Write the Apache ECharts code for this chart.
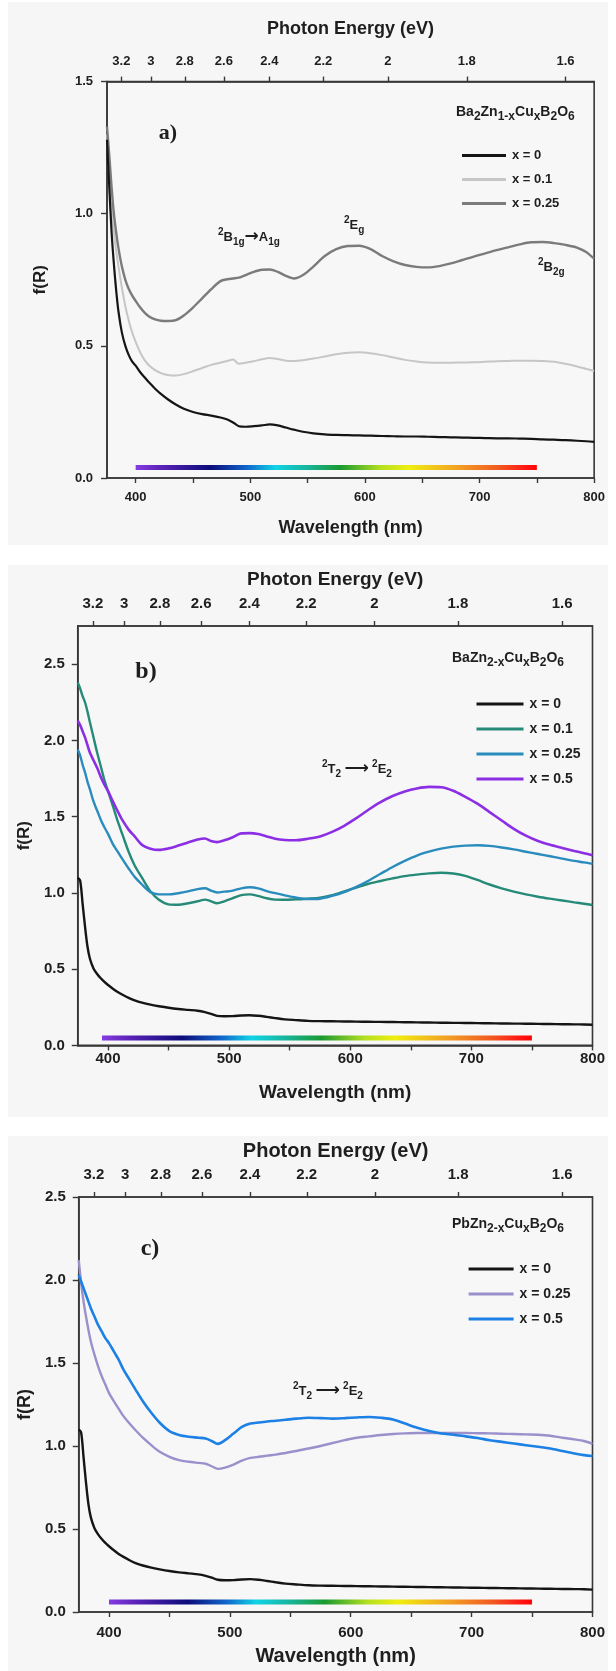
<!DOCTYPE html>
<html>
<head>
<meta charset="utf-8">
<title>Kubelka-Munk f(R) spectra</title>
<script src="https://cdn.jsdelivr.net/npm/echarts@6.0.0/dist/echarts.min.js"></script>
<style>
  html, body { margin: 0; padding: 0; background: #ffffff; }
  body { width: 616px; height: 1671px; position: relative; overflow: hidden; }
  .panel { position: absolute; left: 8px; width: 600px; background: #f6f6f6; }
</style>
</head>
<body>
<div id="pa" class="panel" style="top:2px;height:543px"></div>
<div id="pb" class="panel" style="top:565px;height:552px"></div>
<div id="pc" class="panel" style="top:1136px;height:535px"></div>
<script>
// Wavelength grid (nm) shared by every spectrum
const wavelength = [375,377,379,381,383,385,388,391,394,397,400,404,408,412,417,422,428,435,442,450,458,466,474,480,485,490,496,503,510,517,524,531,538,546,555,565,575,585,595,605,615,625,635,645,655,665,675,685,695,705,715,725,735,745,755,765,775,785,793,800];

// Axis ticks
const energyTicks = [3.2, 3.0, 2.8, 2.6, 2.4, 2.2, 2.0, 1.8, 1.6];   // eV, top axis
const nmTicks = [400, 450, 500, 550, 600, 650, 700, 750, 800];
const nmLabels = [400, 500, 600, 700, 800];
const yLabelsA = [0, 0.5, 1.0, 1.5];
const yLabelsBC = [0, 0.5, 1.0, 1.5, 2.0, 2.5];

// a) Ba2Zn1-xCuxB2O6
const aX0 = [1.28,1.10,0.93,0.81,0.71,0.63,0.55,0.50,0.465,0.44,0.425,0.40,0.38,0.36,0.338,0.318,0.298,0.278,0.262,0.25,0.242,0.236,0.229,0.221,0.21,0.196,0.194,0.196,0.199,0.203,0.199,0.191,0.183,0.175,0.169,0.165,0.163,0.162,0.161,0.16,0.159,0.158,0.157,0.157,0.156,0.155,0.154,0.153,0.152,0.151,0.15,0.15,0.149,0.148,0.146,0.145,0.143,0.141,0.139,0.137];
const aX01 = [1.30,1.13,1.01,0.93,0.86,0.80,0.72,0.65,0.595,0.55,0.515,0.475,0.445,0.425,0.408,0.397,0.39,0.388,0.393,0.404,0.416,0.428,0.436,0.443,0.448,0.432,0.436,0.442,0.449,0.454,0.45,0.444,0.443,0.446,0.452,0.46,0.468,0.474,0.476,0.472,0.465,0.456,0.447,0.441,0.437,0.436,0.436,0.437,0.438,0.44,0.442,0.443,0.444,0.444,0.443,0.44,0.432,0.422,0.413,0.405];
const aX025 = [1.33,1.22,1.10,1.00,0.93,0.87,0.80,0.75,0.715,0.69,0.67,0.645,0.625,0.61,0.60,0.595,0.594,0.597,0.615,0.645,0.68,0.715,0.745,0.752,0.755,0.758,0.768,0.78,0.788,0.789,0.78,0.765,0.755,0.768,0.80,0.84,0.866,0.878,0.879,0.866,0.84,0.82,0.806,0.799,0.797,0.802,0.812,0.825,0.838,0.85,0.862,0.873,0.884,0.892,0.893,0.889,0.882,0.872,0.855,0.83];

// b) BaZn2-xCuxB2O6
const bX0 = [1.10,1.08,0.93,0.78,0.65,0.57,0.505,0.468,0.44,0.416,0.396,0.372,0.35,0.332,0.312,0.295,0.28,0.267,0.257,0.247,0.239,0.233,0.227,0.218,0.207,0.194,0.191,0.192,0.196,0.198,0.194,0.187,0.179,0.171,0.166,0.161,0.159,0.158,0.157,0.156,0.155,0.154,0.153,0.152,0.151,0.15,0.149,0.148,0.147,0.146,0.145,0.144,0.143,0.142,0.141,0.14,0.139,0.138,0.137,0.135];
const bX01 = [2.38,2.34,2.29,2.25,2.19,2.12,2.02,1.92,1.83,1.74,1.667,1.57,1.47,1.38,1.27,1.18,1.10,1.01,0.955,0.925,0.922,0.932,0.945,0.956,0.945,0.932,0.945,0.965,0.985,0.99,0.98,0.965,0.956,0.955,0.958,0.962,0.968,0.985,1.01,1.035,1.06,1.078,1.095,1.11,1.12,1.128,1.132,1.127,1.112,1.085,1.055,1.03,1.008,0.99,0.975,0.962,0.95,0.938,0.929,0.921];
const bX025 = [1.94,1.90,1.84,1.79,1.73,1.68,1.60,1.54,1.48,1.43,1.387,1.32,1.27,1.22,1.16,1.105,1.055,1.005,0.99,0.99,0.998,1.01,1.025,1.03,1.015,1.003,1.008,1.015,1.03,1.037,1.03,1.012,0.998,0.984,0.97,0.96,0.962,0.98,1.005,1.04,1.08,1.125,1.17,1.21,1.245,1.27,1.29,1.303,1.31,1.312,1.308,1.298,1.285,1.27,1.255,1.24,1.225,1.21,1.2,1.19];
const bX05 = [2.13,2.10,2.06,2.02,1.97,1.92,1.87,1.82,1.76,1.71,1.667,1.60,1.535,1.475,1.415,1.37,1.315,1.29,1.282,1.292,1.31,1.33,1.35,1.357,1.34,1.333,1.345,1.365,1.39,1.392,1.386,1.37,1.355,1.347,1.345,1.355,1.37,1.40,1.44,1.49,1.545,1.595,1.635,1.665,1.685,1.695,1.693,1.67,1.63,1.585,1.53,1.475,1.42,1.375,1.34,1.315,1.295,1.275,1.26,1.247];

// c) PbZn2-xCuxB2O6
const cX0 = [1.10,1.08,0.93,0.78,0.65,0.57,0.505,0.468,0.44,0.416,0.396,0.372,0.35,0.332,0.312,0.295,0.28,0.267,0.257,0.247,0.239,0.233,0.227,0.218,0.207,0.194,0.191,0.192,0.196,0.198,0.194,0.187,0.179,0.171,0.166,0.161,0.159,0.158,0.157,0.156,0.155,0.154,0.153,0.152,0.151,0.15,0.149,0.148,0.147,0.146,0.145,0.144,0.143,0.142,0.141,0.14,0.139,0.138,0.137,0.135];
const cX025 = [2.12,1.98,1.87,1.78,1.70,1.63,1.55,1.48,1.42,1.37,1.32,1.27,1.225,1.18,1.135,1.095,1.05,1.005,0.965,0.935,0.915,0.905,0.898,0.893,0.878,0.862,0.87,0.888,0.912,0.928,0.935,0.942,0.948,0.958,0.97,0.985,1.0,1.018,1.035,1.05,1.058,1.066,1.072,1.076,1.078,1.078,1.078,1.078,1.078,1.077,1.076,1.074,1.072,1.07,1.068,1.062,1.05,1.04,1.03,1.013];
const cX05 = [2.03,1.99,1.95,1.91,1.87,1.83,1.78,1.73,1.69,1.65,1.62,1.57,1.52,1.46,1.40,1.34,1.27,1.20,1.14,1.09,1.067,1.056,1.05,1.045,1.03,1.013,1.035,1.075,1.115,1.135,1.142,1.148,1.152,1.158,1.165,1.17,1.168,1.165,1.168,1.172,1.175,1.17,1.16,1.135,1.11,1.09,1.075,1.068,1.058,1.048,1.035,1.025,1.015,1.005,0.995,0.985,0.97,0.955,0.945,0.94];

// Visible-spectrum strip: [start nm, end nm, f(R) level]
const stripA = [400, 750, 0.04];
const stripB = [395, 750, 0.048];
const stripC = [400, 750, 0.06];

const SANS = '"Liberation Sans", Arial, Helvetica, sans-serif';
const SERIF = '"Liberation Serif", "Times New Roman", serif';
const INK = '#1e1e1e';
const FRAME = '#383838';

function pairs(vals) { return wavelength.map((w, i) => [w, vals[i]]); }

function spectrumGradient() {
  return new echarts.graphic.LinearGradient(0, 0, 1, 0, [
    { offset: 0.00, color: '#8a3ee6' },
    { offset: 0.07, color: '#5a22b8' },
    { offset: 0.19, color: '#0c0c7a' },
    { offset: 0.28, color: '#1066cc' },
    { offset: 0.35, color: '#10d4e6' },
    { offset: 0.43, color: '#18b49a' },
    { offset: 0.51, color: '#1a9a30' },
    { offset: 0.61, color: '#b4e020' },
    { offset: 0.68, color: '#f0ee10' },
    { offset: 0.80, color: '#f2a024' },
    { offset: 0.90, color: '#f25a20' },
    { offset: 0.97, color: '#ff1414' },
    { offset: 1.00, color: '#ff0000' }
  ]);
}

function richStyles(main, sub) {
  const base = { fontFamily: SANS, fontWeight: 'bold', fill: INK };
  return {
    m: Object.assign({}, base, { fontSize: main, lineHeight: main + 7, verticalAlign: 'middle' }),
    s: Object.assign({}, base, { fontSize: sub, lineHeight: sub, verticalAlign: 'bottom' }),
    p: Object.assign({}, base, { fontSize: sub, lineHeight: sub, verticalAlign: 'top' }),
    a: Object.assign({}, base, { fontFamily: '"DejaVu Sans", sans-serif', fontWeight: 'bold', fontSize: main + 4, lineHeight: main + 7, verticalAlign: 'middle' })
  };
}

function note(x, y, text, main, sub) {
  return { type: 'text', x: x, y: y, z: 50,
    style: { text: text, rich: richStyles(main, sub), fill: INK, verticalAlign: 'middle', align: 'left' } };
}

function buildOption(p) {
  const axisLine = { show: true, onZero: false, lineStyle: { color: FRAME, width: 1.6 } };
  const tickLine = { color: FRAME, width: 1.4 };
  const labelBase = { fontFamily: SANS, fontWeight: 'bold', fontSize: p.tickFont, color: INK };
  const nameBase = { fontFamily: SANS, fontWeight: 'bold', fontSize: p.titleFont, color: INK };
  const wl = energyTicks.map(e => 1240 / e);

  const series = p.series.map(s => ({
    name: s.name, type: 'line', data: pairs(s.data), showSymbol: false, smooth: 0.3,
    xAxisIndex: 0, yAxisIndex: 0, z: s.z || 3,
    lineStyle: { color: s.color, width: s.width },
    itemStyle: { color: s.color }, emphasis: { disabled: true }
  }));
  series.push({
    name: 'visible', type: 'line', silent: true, showSymbol: false, z: 2,
    data: [[p.strip[0], p.strip[2]], [p.strip[1], p.strip[2]]],
    lineStyle: { width: 5, cap: 'butt', color: spectrumGradient() },
    itemStyle: { color: '#8a3ee6' }, emphasis: { disabled: true }
  });

  return {
    animation: false,
    backgroundColor: '#f6f6f6',
    grid: { left: p.grid[0], right: p.grid[1], top: p.grid[2], bottom: p.grid[3],
      show: true, borderColor: FRAME, borderWidth: 1.6, backgroundColor: '#f7f7f7' },
    xAxis: [
      { type: 'value', position: 'bottom', min: 375, max: 800,
        name: 'Wavelength (nm)', nameLocation: 'middle', nameGap: p.bottomNameGap, nameTextStyle: nameBase,
        axisLine: axisLine,
        axisTick: { show: true, inside: false, length: 5, customValues: nmTicks, lineStyle: tickLine },
        axisLabel: Object.assign({ customValues: nmLabels, margin: p.bottomLabelMargin }, labelBase),
        splitLine: { show: false } },
      { type: 'value', position: 'top', min: 375, max: 800,
        name: 'Photon Energy (eV)', nameLocation: 'middle', nameGap: p.topNameGap, nameTextStyle: nameBase,
        axisLine: axisLine,
        axisTick: { show: true, inside: false, length: 5, customValues: wl, lineStyle: tickLine },
        axisLabel: Object.assign({ customValues: wl, margin: p.topLabelMargin,
          formatter: v => String(+(1240 / v).toFixed(1)) }, labelBase),
        splitLine: { show: false } }
    ],
    yAxis: { type: 'value', min: 0, max: p.ymax,
      name: 'f(R)', nameLocation: 'middle', nameRotate: 90, nameGap: p.yNameGap,
      nameTextStyle: Object.assign({}, nameBase, { fontSize: p.yNameFont }),
      axisLine: axisLine,
      axisTick: { show: true, inside: false, length: 6, customValues: p.yLabels, lineStyle: tickLine },
      axisLabel: Object.assign({ customValues: p.yLabels, margin: p.yLabelMargin,
        formatter: v => v.toFixed(1) }, labelBase),
      splitLine: { show: false } },
    legend: { orient: 'vertical', left: p.legend.left, top: p.legend.top,
      itemWidth: p.legend.width, itemHeight: 3, itemGap: p.legend.gap, icon: 'rect',
      selectedMode: false, data: p.series.map(s => s.name),
      textStyle: { fontFamily: SANS, fontWeight: 'bold', fontSize: p.legend.font, color: INK, padding: [0, 0, 0, 1] } },
    series: series,
    graphic: [
      note(p.formula[0], p.formula[1], p.formula[2], p.formula[3], p.formula[4]),
      { type: 'text', x: p.tag[0], y: p.tag[1], z: 50,
        style: { text: p.tag[2], font: 'bold ' + p.tag[3] + 'px ' + SERIF, fill: INK,
          align: 'center', verticalAlign: 'middle' } }
    ].concat(p.notes.map(n => note(n[0], n[1], n[2], n[3], n[4])))
  };
}

const panels = [
  { id: 'pa', grid: [99, 8, 79.6, 67], ymax: 1.5, yLabels: yLabelsA,
    tickFont: 13, titleFont: 18, yNameFont: 17,
    topNameGap: 44, bottomNameGap: 41, yNameGap: 58,
    topLabelMargin: 14, bottomLabelMargin: 13, yLabelMargin: 14,
    series: [
      { name: 'x = 0', data: aX0, color: '#151515', width: 2.2, z: 5 },
      { name: 'x = 0.1', data: aX01, color: '#c6c6c6', width: 2 },
      { name: 'x = 0.25', data: aX025, color: '#7b7b7b', width: 2.4 }
    ],
    strip: stripA,
    legend: { left: 449, top: 142, width: 44, gap: 11, font: 13 },
    formula: [448, 110, '{m|Ba}{s|2}{m|Zn}{s|1-x}{m|Cu}{s|x}{m|B}{s|2}{m|O}{s|6}', 14, 12],
    tag: [160, 131, 'a)', 22],
    notes: [
      [210, 235, '{p|2}{m|B}{s|1g}{a|→}{m|A}{s|1g}', 13, 10],
      [336, 223, '{p|2}{m|E}{s|g}', 13, 10],
      [530, 265, '{p|2}{m|B}{s|2g}', 13, 10]
    ] },
  { id: 'pb', grid: [67.8, 8, 59.6, 71.6], ymax: 2.75, yLabels: yLabelsBC,
    tickFont: 15, titleFont: 19, yNameFont: 17,
    topNameGap: 37, bottomNameGap: 38, yNameGap: 37,
    topLabelMargin: 15, bottomLabelMargin: 6, yLabelMargin: 13,
    series: [
      { name: 'x = 0', data: bX0, color: '#151515', width: 2.4 },
      { name: 'x = 0.1', data: bX01, color: '#268a78', width: 2.4 },
      { name: 'x = 0.25', data: bX025, color: '#2a8cbd', width: 2.4 },
      { name: 'x = 0.5', data: bX05, color: '#8c2ee4', width: 2.6 }
    ],
    strip: stripB,
    legend: { left: 463.5, top: 127, width: 47, gap: 11, font: 14 },
    formula: [444, 93, '{m|BaZn}{s|2-x}{m|Cu}{s|x}{m|B}{s|2}{m|O}{s|6}', 14, 12],
    tag: [138, 107, 'b)', 24],
    notes: [
      [314, 204, '{p|2}{m|T}{s|2} {a|⟶} {p|2}{m|E}{s|2}', 13, 10]
    ] },
  { id: 'pc', grid: [66.7, 8, 57, 56], ymax: 2.5, yLabels: yLabelsBC,
    tickFont: 15, titleFont: 20, yNameFont: 18,
    topNameGap: 36, bottomNameGap: 34, yNameGap: 36,
    topLabelMargin: 15, bottomLabelMargin: 13, yLabelMargin: 13,
    series: [
      { name: 'x = 0', data: cX0, color: '#151515', width: 2.4 },
      { name: 'x = 0.25', data: cX025, color: '#9a90cc', width: 2.4 },
      { name: 'x = 0.5', data: cX05, color: '#1c80e4', width: 2.6 }
    ],
    strip: stripC,
    legend: { left: 455.6, top: 121, width: 45, gap: 11, font: 14 },
    formula: [444, 88, '{m|PbZn}{s|2-x}{m|Cu}{s|x}{m|B}{s|2}{m|O}{s|6}', 14, 12],
    tag: [142, 113, 'c)', 24],
    notes: [
      [285, 255, '{p|2}{m|T}{s|2} {a|⟶} {p|2}{m|E}{s|2}', 13, 10]
    ] }
];

panels.forEach(p => {
  const chart = echarts.init(document.getElementById(p.id), null, { renderer: 'canvas' });
  chart.setOption(buildOption(p));
});
</script>
</body>
</html>
